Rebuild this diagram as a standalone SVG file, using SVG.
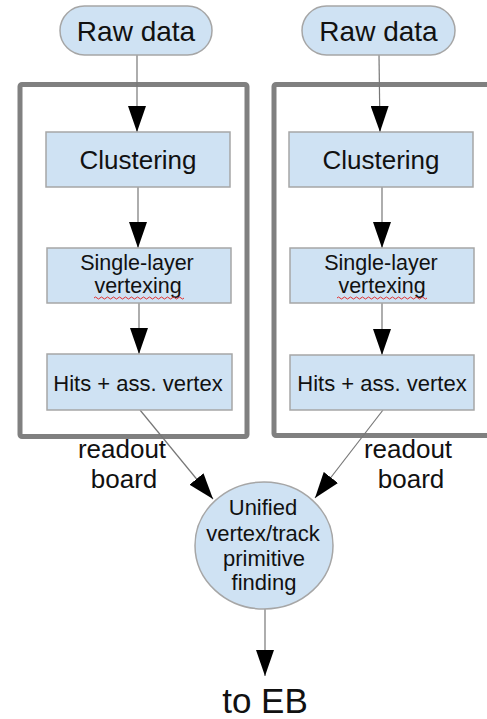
<svg xmlns="http://www.w3.org/2000/svg" width="487" height="719" viewBox="0 0 487 719">
<defs>
<marker id="ah" markerUnits="userSpaceOnUse" markerWidth="26" markerHeight="18" refX="26" refY="9" viewBox="0 0 26 18" orient="auto">
<path d="M0,0 L26,9 L0,18 Z" fill="#000"/>
</marker>
<style>
.frame{fill:none;stroke:#808080;stroke-width:5}
.box{fill:#cfe2f3;stroke:#a6a6a6;stroke-width:1.5}
.t{font-family:"Liberation Sans",Arial,sans-serif;fill:#111;text-anchor:middle}
.c{fill:none;stroke:#777;stroke-width:1.2;marker-end:url(#ah)}
.sq{fill:none;stroke:#e03030;stroke-width:1}
</style>
</defs>
<rect width="487" height="719" fill="#fff"/>
<g id="board-left"><rect class="frame" x="20" y="84.5" width="227" height="352" rx="2"/></g>
<g id="board-right"><rect class="frame" x="274" y="84.5" width="230" height="351" rx="2"/></g>
<g id="connectors">
<line class="c" x1="137" y1="55" x2="137" y2="132"/>
<line class="c" x1="138" y1="187" x2="138" y2="248"/>
<line class="c" x1="139" y1="303" x2="139" y2="354"/>
<line class="c" x1="379" y1="55" x2="380" y2="132"/>
<line class="c" x1="382" y1="187" x2="382" y2="248"/>
<line class="c" x1="382" y1="303" x2="382" y2="355"/>
<line class="c" x1="140" y1="410" x2="213" y2="499"/>
<line class="c" x1="383" y1="410" x2="315" y2="498"/>
<line class="c" x1="265" y1="609" x2="265" y2="676"/>
</g>
<g id="raw-left"><rect class="box" x="60" y="6" width="152" height="49" rx="24.5"/><text class="t" x="136" y="41" font-size="28">Raw data</text></g>
<g id="raw-right"><rect class="box" x="302" y="6" width="153" height="49" rx="24.5"/><text class="t" x="378.5" y="41" font-size="28">Raw data</text></g>
<g id="clus-left"><rect class="box" x="46" y="132" width="184" height="55"/><text class="t" x="138" y="169" font-size="26">Clustering</text></g>
<g id="clus-right"><rect class="box" x="289" y="132" width="184" height="55"/><text class="t" x="381" y="169" font-size="26">Clustering</text></g>
<g id="slv-left"><rect class="box" x="47" y="248" width="184" height="55"/><text class="t" x="137" y="270" font-size="21.5">Single-layer</text><text class="t" x="138" y="293" font-size="21.5">vertexing</text><path class="sq" d="M94,298 q1.5,-2 3,0 t3,0 t3,0 t3,0 t3,0 t3,0 t3,0 t3,0 t3,0 t3,0 t3,0 t3,0 t3,0 t3,0 t3,0 t3,0 t3,0 t3,0 t3,0 t3,0 t3,0 t3,0 t3,0 t3,0 t3,0 t3,0 t3,0 t3,0 t3,0 t3,0"/></g>
<g id="slv-right"><rect class="box" x="290" y="248" width="184" height="55"/><text class="t" x="381" y="270" font-size="21.5">Single-layer</text><text class="t" x="382" y="293" font-size="21.5">vertexing</text><path class="sq" d="M337,298 q1.5,-2 3,0 t3,0 t3,0 t3,0 t3,0 t3,0 t3,0 t3,0 t3,0 t3,0 t3,0 t3,0 t3,0 t3,0 t3,0 t3,0 t3,0 t3,0 t3,0 t3,0 t3,0 t3,0 t3,0 t3,0 t3,0 t3,0 t3,0 t3,0 t3,0 t3,0"/></g>
<g id="hits-left"><rect class="box" x="47" y="354" width="185" height="56"/><text class="t" x="138" y="391" font-size="22">Hits + ass. vertex</text></g>
<g id="hits-right"><rect class="box" x="290" y="355" width="184" height="55"/><text class="t" x="382" y="391" font-size="22">Hits + ass. vertex</text></g>
<g id="label-left"><text class="t" x="122" y="458" font-size="26">readout</text><text class="t" x="124" y="488" font-size="26">board</text></g>
<g id="label-right"><text class="t" x="408" y="458" font-size="26">readout</text><text class="t" x="411" y="488" font-size="26">board</text></g>
<g id="unified"><ellipse class="box" cx="264" cy="545.5" rx="69" ry="63.5"/><text class="t" x="263" y="515" font-size="22">Unified</text><text class="t" x="263" y="541" font-size="22">vertex/track</text><text class="t" x="264" y="566" font-size="22">primitive</text><text class="t" x="264" y="590" font-size="22">finding</text></g>
<g id="to-eb"><text class="t" x="265" y="713" font-size="35">to EB</text></g>
</svg>
